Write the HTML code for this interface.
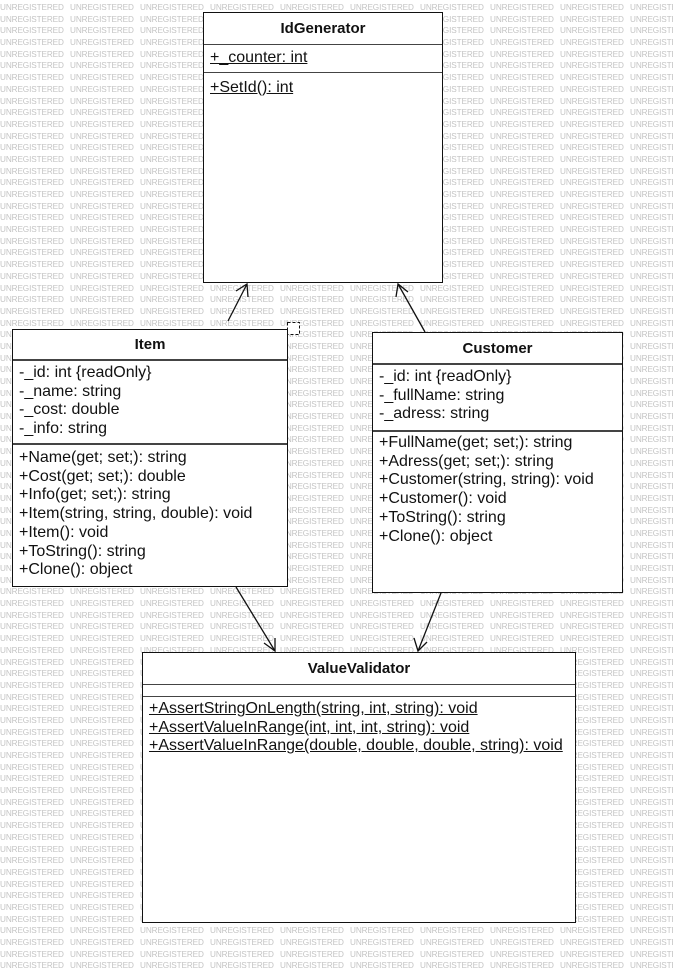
<!DOCTYPE html>
<html><head><meta charset="utf-8"><style>
html,body{margin:0;padding:0;width:673px;height:972px;overflow:hidden;background:#fff;font-family:"Liberation Sans",Arial,sans-serif}
#wm{position:absolute;left:0;top:2px;width:700px;height:970px;overflow:hidden;font-size:8.2px;color:#c4c4c4;line-height:11.7px;letter-spacing:-0.1px}
#wm b{float:left;display:block;width:70px;height:11.7px;font-weight:normal;white-space:nowrap;overflow:hidden}
.box{position:absolute;background:#fff;border:1px solid #111;box-sizing:border-box;font-size:16px;color:#111}
.t{position:absolute;left:0;right:0;text-align:center;font-weight:bold;font-size:15px}
.hl{position:absolute;left:0;right:0;border-top:2px solid #444}
.l{position:absolute;left:6px;white-space:nowrap;line-height:18.7px}
.u{text-decoration:underline}
svg{position:absolute;left:0;top:0}
</style></head><body>
<div id="wm">
<b>UNREGISTERED</b><b>UNREGISTERED</b><b>UNREGISTERED</b><b>UNREGISTERED</b><b>UNREGISTERED</b><b>UNREGISTERED</b><b>UNREGISTERED</b><b>UNREGISTERED</b><b>UNREGISTERED</b><b>UNREGISTERED</b>
<b>UNREGISTERED</b><b>UNREGISTERED</b><b>UNREGISTERED</b><b>UNREGISTERED</b><b>UNREGISTERED</b><b>UNREGISTERED</b><b>UNREGISTERED</b><b>UNREGISTERED</b><b>UNREGISTERED</b><b>UNREGISTERED</b>
<b>UNREGISTERED</b><b>UNREGISTERED</b><b>UNREGISTERED</b><b>UNREGISTERED</b><b>UNREGISTERED</b><b>UNREGISTERED</b><b>UNREGISTERED</b><b>UNREGISTERED</b><b>UNREGISTERED</b><b>UNREGISTERED</b>
<b>UNREGISTERED</b><b>UNREGISTERED</b><b>UNREGISTERED</b><b>UNREGISTERED</b><b>UNREGISTERED</b><b>UNREGISTERED</b><b>UNREGISTERED</b><b>UNREGISTERED</b><b>UNREGISTERED</b><b>UNREGISTERED</b>
<b>UNREGISTERED</b><b>UNREGISTERED</b><b>UNREGISTERED</b><b>UNREGISTERED</b><b>UNREGISTERED</b><b>UNREGISTERED</b><b>UNREGISTERED</b><b>UNREGISTERED</b><b>UNREGISTERED</b><b>UNREGISTERED</b>
<b>UNREGISTERED</b><b>UNREGISTERED</b><b>UNREGISTERED</b><b>UNREGISTERED</b><b>UNREGISTERED</b><b>UNREGISTERED</b><b>UNREGISTERED</b><b>UNREGISTERED</b><b>UNREGISTERED</b><b>UNREGISTERED</b>
<b>UNREGISTERED</b><b>UNREGISTERED</b><b>UNREGISTERED</b><b>UNREGISTERED</b><b>UNREGISTERED</b><b>UNREGISTERED</b><b>UNREGISTERED</b><b>UNREGISTERED</b><b>UNREGISTERED</b><b>UNREGISTERED</b>
<b>UNREGISTERED</b><b>UNREGISTERED</b><b>UNREGISTERED</b><b>UNREGISTERED</b><b>UNREGISTERED</b><b>UNREGISTERED</b><b>UNREGISTERED</b><b>UNREGISTERED</b><b>UNREGISTERED</b><b>UNREGISTERED</b>
<b>UNREGISTERED</b><b>UNREGISTERED</b><b>UNREGISTERED</b><b>UNREGISTERED</b><b>UNREGISTERED</b><b>UNREGISTERED</b><b>UNREGISTERED</b><b>UNREGISTERED</b><b>UNREGISTERED</b><b>UNREGISTERED</b>
<b>UNREGISTERED</b><b>UNREGISTERED</b><b>UNREGISTERED</b><b>UNREGISTERED</b><b>UNREGISTERED</b><b>UNREGISTERED</b><b>UNREGISTERED</b><b>UNREGISTERED</b><b>UNREGISTERED</b><b>UNREGISTERED</b>
<b>UNREGISTERED</b><b>UNREGISTERED</b><b>UNREGISTERED</b><b>UNREGISTERED</b><b>UNREGISTERED</b><b>UNREGISTERED</b><b>UNREGISTERED</b><b>UNREGISTERED</b><b>UNREGISTERED</b><b>UNREGISTERED</b>
<b>UNREGISTERED</b><b>UNREGISTERED</b><b>UNREGISTERED</b><b>UNREGISTERED</b><b>UNREGISTERED</b><b>UNREGISTERED</b><b>UNREGISTERED</b><b>UNREGISTERED</b><b>UNREGISTERED</b><b>UNREGISTERED</b>
<b>UNREGISTERED</b><b>UNREGISTERED</b><b>UNREGISTERED</b><b>UNREGISTERED</b><b>UNREGISTERED</b><b>UNREGISTERED</b><b>UNREGISTERED</b><b>UNREGISTERED</b><b>UNREGISTERED</b><b>UNREGISTERED</b>
<b>UNREGISTERED</b><b>UNREGISTERED</b><b>UNREGISTERED</b><b>UNREGISTERED</b><b>UNREGISTERED</b><b>UNREGISTERED</b><b>UNREGISTERED</b><b>UNREGISTERED</b><b>UNREGISTERED</b><b>UNREGISTERED</b>
<b>UNREGISTERED</b><b>UNREGISTERED</b><b>UNREGISTERED</b><b>UNREGISTERED</b><b>UNREGISTERED</b><b>UNREGISTERED</b><b>UNREGISTERED</b><b>UNREGISTERED</b><b>UNREGISTERED</b><b>UNREGISTERED</b>
<b>UNREGISTERED</b><b>UNREGISTERED</b><b>UNREGISTERED</b><b>UNREGISTERED</b><b>UNREGISTERED</b><b>UNREGISTERED</b><b>UNREGISTERED</b><b>UNREGISTERED</b><b>UNREGISTERED</b><b>UNREGISTERED</b>
<b>UNREGISTERED</b><b>UNREGISTERED</b><b>UNREGISTERED</b><b>UNREGISTERED</b><b>UNREGISTERED</b><b>UNREGISTERED</b><b>UNREGISTERED</b><b>UNREGISTERED</b><b>UNREGISTERED</b><b>UNREGISTERED</b>
<b>UNREGISTERED</b><b>UNREGISTERED</b><b>UNREGISTERED</b><b>UNREGISTERED</b><b>UNREGISTERED</b><b>UNREGISTERED</b><b>UNREGISTERED</b><b>UNREGISTERED</b><b>UNREGISTERED</b><b>UNREGISTERED</b>
<b>UNREGISTERED</b><b>UNREGISTERED</b><b>UNREGISTERED</b><b>UNREGISTERED</b><b>UNREGISTERED</b><b>UNREGISTERED</b><b>UNREGISTERED</b><b>UNREGISTERED</b><b>UNREGISTERED</b><b>UNREGISTERED</b>
<b>UNREGISTERED</b><b>UNREGISTERED</b><b>UNREGISTERED</b><b>UNREGISTERED</b><b>UNREGISTERED</b><b>UNREGISTERED</b><b>UNREGISTERED</b><b>UNREGISTERED</b><b>UNREGISTERED</b><b>UNREGISTERED</b>
<b>UNREGISTERED</b><b>UNREGISTERED</b><b>UNREGISTERED</b><b>UNREGISTERED</b><b>UNREGISTERED</b><b>UNREGISTERED</b><b>UNREGISTERED</b><b>UNREGISTERED</b><b>UNREGISTERED</b><b>UNREGISTERED</b>
<b>UNREGISTERED</b><b>UNREGISTERED</b><b>UNREGISTERED</b><b>UNREGISTERED</b><b>UNREGISTERED</b><b>UNREGISTERED</b><b>UNREGISTERED</b><b>UNREGISTERED</b><b>UNREGISTERED</b><b>UNREGISTERED</b>
<b>UNREGISTERED</b><b>UNREGISTERED</b><b>UNREGISTERED</b><b>UNREGISTERED</b><b>UNREGISTERED</b><b>UNREGISTERED</b><b>UNREGISTERED</b><b>UNREGISTERED</b><b>UNREGISTERED</b><b>UNREGISTERED</b>
<b>UNREGISTERED</b><b>UNREGISTERED</b><b>UNREGISTERED</b><b>UNREGISTERED</b><b>UNREGISTERED</b><b>UNREGISTERED</b><b>UNREGISTERED</b><b>UNREGISTERED</b><b>UNREGISTERED</b><b>UNREGISTERED</b>
<b>UNREGISTERED</b><b>UNREGISTERED</b><b>UNREGISTERED</b><b>UNREGISTERED</b><b>UNREGISTERED</b><b>UNREGISTERED</b><b>UNREGISTERED</b><b>UNREGISTERED</b><b>UNREGISTERED</b><b>UNREGISTERED</b>
<b>UNREGISTERED</b><b>UNREGISTERED</b><b>UNREGISTERED</b><b>UNREGISTERED</b><b>UNREGISTERED</b><b>UNREGISTERED</b><b>UNREGISTERED</b><b>UNREGISTERED</b><b>UNREGISTERED</b><b>UNREGISTERED</b>
<b>UNREGISTERED</b><b>UNREGISTERED</b><b>UNREGISTERED</b><b>UNREGISTERED</b><b>UNREGISTERED</b><b>UNREGISTERED</b><b>UNREGISTERED</b><b>UNREGISTERED</b><b>UNREGISTERED</b><b>UNREGISTERED</b>
<b>UNREGISTERED</b><b>UNREGISTERED</b><b>UNREGISTERED</b><b>UNREGISTERED</b><b>UNREGISTERED</b><b>UNREGISTERED</b><b>UNREGISTERED</b><b>UNREGISTERED</b><b>UNREGISTERED</b><b>UNREGISTERED</b>
<b>UNREGISTERED</b><b>UNREGISTERED</b><b>UNREGISTERED</b><b>UNREGISTERED</b><b>UNREGISTERED</b><b>UNREGISTERED</b><b>UNREGISTERED</b><b>UNREGISTERED</b><b>UNREGISTERED</b><b>UNREGISTERED</b>
<b>UNREGISTERED</b><b>UNREGISTERED</b><b>UNREGISTERED</b><b>UNREGISTERED</b><b>UNREGISTERED</b><b>UNREGISTERED</b><b>UNREGISTERED</b><b>UNREGISTERED</b><b>UNREGISTERED</b><b>UNREGISTERED</b>
<b>UNREGISTERED</b><b>UNREGISTERED</b><b>UNREGISTERED</b><b>UNREGISTERED</b><b>UNREGISTERED</b><b>UNREGISTERED</b><b>UNREGISTERED</b><b>UNREGISTERED</b><b>UNREGISTERED</b><b>UNREGISTERED</b>
<b>UNREGISTERED</b><b>UNREGISTERED</b><b>UNREGISTERED</b><b>UNREGISTERED</b><b>UNREGISTERED</b><b>UNREGISTERED</b><b>UNREGISTERED</b><b>UNREGISTERED</b><b>UNREGISTERED</b><b>UNREGISTERED</b>
<b>UNREGISTERED</b><b>UNREGISTERED</b><b>UNREGISTERED</b><b>UNREGISTERED</b><b>UNREGISTERED</b><b>UNREGISTERED</b><b>UNREGISTERED</b><b>UNREGISTERED</b><b>UNREGISTERED</b><b>UNREGISTERED</b>
<b>UNREGISTERED</b><b>UNREGISTERED</b><b>UNREGISTERED</b><b>UNREGISTERED</b><b>UNREGISTERED</b><b>UNREGISTERED</b><b>UNREGISTERED</b><b>UNREGISTERED</b><b>UNREGISTERED</b><b>UNREGISTERED</b>
<b>UNREGISTERED</b><b>UNREGISTERED</b><b>UNREGISTERED</b><b>UNREGISTERED</b><b>UNREGISTERED</b><b>UNREGISTERED</b><b>UNREGISTERED</b><b>UNREGISTERED</b><b>UNREGISTERED</b><b>UNREGISTERED</b>
<b>UNREGISTERED</b><b>UNREGISTERED</b><b>UNREGISTERED</b><b>UNREGISTERED</b><b>UNREGISTERED</b><b>UNREGISTERED</b><b>UNREGISTERED</b><b>UNREGISTERED</b><b>UNREGISTERED</b><b>UNREGISTERED</b>
<b>UNREGISTERED</b><b>UNREGISTERED</b><b>UNREGISTERED</b><b>UNREGISTERED</b><b>UNREGISTERED</b><b>UNREGISTERED</b><b>UNREGISTERED</b><b>UNREGISTERED</b><b>UNREGISTERED</b><b>UNREGISTERED</b>
<b>UNREGISTERED</b><b>UNREGISTERED</b><b>UNREGISTERED</b><b>UNREGISTERED</b><b>UNREGISTERED</b><b>UNREGISTERED</b><b>UNREGISTERED</b><b>UNREGISTERED</b><b>UNREGISTERED</b><b>UNREGISTERED</b>
<b>UNREGISTERED</b><b>UNREGISTERED</b><b>UNREGISTERED</b><b>UNREGISTERED</b><b>UNREGISTERED</b><b>UNREGISTERED</b><b>UNREGISTERED</b><b>UNREGISTERED</b><b>UNREGISTERED</b><b>UNREGISTERED</b>
<b>UNREGISTERED</b><b>UNREGISTERED</b><b>UNREGISTERED</b><b>UNREGISTERED</b><b>UNREGISTERED</b><b>UNREGISTERED</b><b>UNREGISTERED</b><b>UNREGISTERED</b><b>UNREGISTERED</b><b>UNREGISTERED</b>
<b>UNREGISTERED</b><b>UNREGISTERED</b><b>UNREGISTERED</b><b>UNREGISTERED</b><b>UNREGISTERED</b><b>UNREGISTERED</b><b>UNREGISTERED</b><b>UNREGISTERED</b><b>UNREGISTERED</b><b>UNREGISTERED</b>
<b>UNREGISTERED</b><b>UNREGISTERED</b><b>UNREGISTERED</b><b>UNREGISTERED</b><b>UNREGISTERED</b><b>UNREGISTERED</b><b>UNREGISTERED</b><b>UNREGISTERED</b><b>UNREGISTERED</b><b>UNREGISTERED</b>
<b>UNREGISTERED</b><b>UNREGISTERED</b><b>UNREGISTERED</b><b>UNREGISTERED</b><b>UNREGISTERED</b><b>UNREGISTERED</b><b>UNREGISTERED</b><b>UNREGISTERED</b><b>UNREGISTERED</b><b>UNREGISTERED</b>
<b>UNREGISTERED</b><b>UNREGISTERED</b><b>UNREGISTERED</b><b>UNREGISTERED</b><b>UNREGISTERED</b><b>UNREGISTERED</b><b>UNREGISTERED</b><b>UNREGISTERED</b><b>UNREGISTERED</b><b>UNREGISTERED</b>
<b>UNREGISTERED</b><b>UNREGISTERED</b><b>UNREGISTERED</b><b>UNREGISTERED</b><b>UNREGISTERED</b><b>UNREGISTERED</b><b>UNREGISTERED</b><b>UNREGISTERED</b><b>UNREGISTERED</b><b>UNREGISTERED</b>
<b>UNREGISTERED</b><b>UNREGISTERED</b><b>UNREGISTERED</b><b>UNREGISTERED</b><b>UNREGISTERED</b><b>UNREGISTERED</b><b>UNREGISTERED</b><b>UNREGISTERED</b><b>UNREGISTERED</b><b>UNREGISTERED</b>
<b>UNREGISTERED</b><b>UNREGISTERED</b><b>UNREGISTERED</b><b>UNREGISTERED</b><b>UNREGISTERED</b><b>UNREGISTERED</b><b>UNREGISTERED</b><b>UNREGISTERED</b><b>UNREGISTERED</b><b>UNREGISTERED</b>
<b>UNREGISTERED</b><b>UNREGISTERED</b><b>UNREGISTERED</b><b>UNREGISTERED</b><b>UNREGISTERED</b><b>UNREGISTERED</b><b>UNREGISTERED</b><b>UNREGISTERED</b><b>UNREGISTERED</b><b>UNREGISTERED</b>
<b>UNREGISTERED</b><b>UNREGISTERED</b><b>UNREGISTERED</b><b>UNREGISTERED</b><b>UNREGISTERED</b><b>UNREGISTERED</b><b>UNREGISTERED</b><b>UNREGISTERED</b><b>UNREGISTERED</b><b>UNREGISTERED</b>
<b>UNREGISTERED</b><b>UNREGISTERED</b><b>UNREGISTERED</b><b>UNREGISTERED</b><b>UNREGISTERED</b><b>UNREGISTERED</b><b>UNREGISTERED</b><b>UNREGISTERED</b><b>UNREGISTERED</b><b>UNREGISTERED</b>
<b>UNREGISTERED</b><b>UNREGISTERED</b><b>UNREGISTERED</b><b>UNREGISTERED</b><b>UNREGISTERED</b><b>UNREGISTERED</b><b>UNREGISTERED</b><b>UNREGISTERED</b><b>UNREGISTERED</b><b>UNREGISTERED</b>
<b>UNREGISTERED</b><b>UNREGISTERED</b><b>UNREGISTERED</b><b>UNREGISTERED</b><b>UNREGISTERED</b><b>UNREGISTERED</b><b>UNREGISTERED</b><b>UNREGISTERED</b><b>UNREGISTERED</b><b>UNREGISTERED</b>
<b>UNREGISTERED</b><b>UNREGISTERED</b><b>UNREGISTERED</b><b>UNREGISTERED</b><b>UNREGISTERED</b><b>UNREGISTERED</b><b>UNREGISTERED</b><b>UNREGISTERED</b><b>UNREGISTERED</b><b>UNREGISTERED</b>
<b>UNREGISTERED</b><b>UNREGISTERED</b><b>UNREGISTERED</b><b>UNREGISTERED</b><b>UNREGISTERED</b><b>UNREGISTERED</b><b>UNREGISTERED</b><b>UNREGISTERED</b><b>UNREGISTERED</b><b>UNREGISTERED</b>
<b>UNREGISTERED</b><b>UNREGISTERED</b><b>UNREGISTERED</b><b>UNREGISTERED</b><b>UNREGISTERED</b><b>UNREGISTERED</b><b>UNREGISTERED</b><b>UNREGISTERED</b><b>UNREGISTERED</b><b>UNREGISTERED</b>
<b>UNREGISTERED</b><b>UNREGISTERED</b><b>UNREGISTERED</b><b>UNREGISTERED</b><b>UNREGISTERED</b><b>UNREGISTERED</b><b>UNREGISTERED</b><b>UNREGISTERED</b><b>UNREGISTERED</b><b>UNREGISTERED</b>
<b>UNREGISTERED</b><b>UNREGISTERED</b><b>UNREGISTERED</b><b>UNREGISTERED</b><b>UNREGISTERED</b><b>UNREGISTERED</b><b>UNREGISTERED</b><b>UNREGISTERED</b><b>UNREGISTERED</b><b>UNREGISTERED</b>
<b>UNREGISTERED</b><b>UNREGISTERED</b><b>UNREGISTERED</b><b>UNREGISTERED</b><b>UNREGISTERED</b><b>UNREGISTERED</b><b>UNREGISTERED</b><b>UNREGISTERED</b><b>UNREGISTERED</b><b>UNREGISTERED</b>
<b>UNREGISTERED</b><b>UNREGISTERED</b><b>UNREGISTERED</b><b>UNREGISTERED</b><b>UNREGISTERED</b><b>UNREGISTERED</b><b>UNREGISTERED</b><b>UNREGISTERED</b><b>UNREGISTERED</b><b>UNREGISTERED</b>
<b>UNREGISTERED</b><b>UNREGISTERED</b><b>UNREGISTERED</b><b>UNREGISTERED</b><b>UNREGISTERED</b><b>UNREGISTERED</b><b>UNREGISTERED</b><b>UNREGISTERED</b><b>UNREGISTERED</b><b>UNREGISTERED</b>
<b>UNREGISTERED</b><b>UNREGISTERED</b><b>UNREGISTERED</b><b>UNREGISTERED</b><b>UNREGISTERED</b><b>UNREGISTERED</b><b>UNREGISTERED</b><b>UNREGISTERED</b><b>UNREGISTERED</b><b>UNREGISTERED</b>
<b>UNREGISTERED</b><b>UNREGISTERED</b><b>UNREGISTERED</b><b>UNREGISTERED</b><b>UNREGISTERED</b><b>UNREGISTERED</b><b>UNREGISTERED</b><b>UNREGISTERED</b><b>UNREGISTERED</b><b>UNREGISTERED</b>
<b>UNREGISTERED</b><b>UNREGISTERED</b><b>UNREGISTERED</b><b>UNREGISTERED</b><b>UNREGISTERED</b><b>UNREGISTERED</b><b>UNREGISTERED</b><b>UNREGISTERED</b><b>UNREGISTERED</b><b>UNREGISTERED</b>
<b>UNREGISTERED</b><b>UNREGISTERED</b><b>UNREGISTERED</b><b>UNREGISTERED</b><b>UNREGISTERED</b><b>UNREGISTERED</b><b>UNREGISTERED</b><b>UNREGISTERED</b><b>UNREGISTERED</b><b>UNREGISTERED</b>
<b>UNREGISTERED</b><b>UNREGISTERED</b><b>UNREGISTERED</b><b>UNREGISTERED</b><b>UNREGISTERED</b><b>UNREGISTERED</b><b>UNREGISTERED</b><b>UNREGISTERED</b><b>UNREGISTERED</b><b>UNREGISTERED</b>
<b>UNREGISTERED</b><b>UNREGISTERED</b><b>UNREGISTERED</b><b>UNREGISTERED</b><b>UNREGISTERED</b><b>UNREGISTERED</b><b>UNREGISTERED</b><b>UNREGISTERED</b><b>UNREGISTERED</b><b>UNREGISTERED</b>
<b>UNREGISTERED</b><b>UNREGISTERED</b><b>UNREGISTERED</b><b>UNREGISTERED</b><b>UNREGISTERED</b><b>UNREGISTERED</b><b>UNREGISTERED</b><b>UNREGISTERED</b><b>UNREGISTERED</b><b>UNREGISTERED</b>
<b>UNREGISTERED</b><b>UNREGISTERED</b><b>UNREGISTERED</b><b>UNREGISTERED</b><b>UNREGISTERED</b><b>UNREGISTERED</b><b>UNREGISTERED</b><b>UNREGISTERED</b><b>UNREGISTERED</b><b>UNREGISTERED</b>
<b>UNREGISTERED</b><b>UNREGISTERED</b><b>UNREGISTERED</b><b>UNREGISTERED</b><b>UNREGISTERED</b><b>UNREGISTERED</b><b>UNREGISTERED</b><b>UNREGISTERED</b><b>UNREGISTERED</b><b>UNREGISTERED</b>
<b>UNREGISTERED</b><b>UNREGISTERED</b><b>UNREGISTERED</b><b>UNREGISTERED</b><b>UNREGISTERED</b><b>UNREGISTERED</b><b>UNREGISTERED</b><b>UNREGISTERED</b><b>UNREGISTERED</b><b>UNREGISTERED</b>
<b>UNREGISTERED</b><b>UNREGISTERED</b><b>UNREGISTERED</b><b>UNREGISTERED</b><b>UNREGISTERED</b><b>UNREGISTERED</b><b>UNREGISTERED</b><b>UNREGISTERED</b><b>UNREGISTERED</b><b>UNREGISTERED</b>
<b>UNREGISTERED</b><b>UNREGISTERED</b><b>UNREGISTERED</b><b>UNREGISTERED</b><b>UNREGISTERED</b><b>UNREGISTERED</b><b>UNREGISTERED</b><b>UNREGISTERED</b><b>UNREGISTERED</b><b>UNREGISTERED</b>
<b>UNREGISTERED</b><b>UNREGISTERED</b><b>UNREGISTERED</b><b>UNREGISTERED</b><b>UNREGISTERED</b><b>UNREGISTERED</b><b>UNREGISTERED</b><b>UNREGISTERED</b><b>UNREGISTERED</b><b>UNREGISTERED</b>
<b>UNREGISTERED</b><b>UNREGISTERED</b><b>UNREGISTERED</b><b>UNREGISTERED</b><b>UNREGISTERED</b><b>UNREGISTERED</b><b>UNREGISTERED</b><b>UNREGISTERED</b><b>UNREGISTERED</b><b>UNREGISTERED</b>
<b>UNREGISTERED</b><b>UNREGISTERED</b><b>UNREGISTERED</b><b>UNREGISTERED</b><b>UNREGISTERED</b><b>UNREGISTERED</b><b>UNREGISTERED</b><b>UNREGISTERED</b><b>UNREGISTERED</b><b>UNREGISTERED</b>
<b>UNREGISTERED</b><b>UNREGISTERED</b><b>UNREGISTERED</b><b>UNREGISTERED</b><b>UNREGISTERED</b><b>UNREGISTERED</b><b>UNREGISTERED</b><b>UNREGISTERED</b><b>UNREGISTERED</b><b>UNREGISTERED</b>
<b>UNREGISTERED</b><b>UNREGISTERED</b><b>UNREGISTERED</b><b>UNREGISTERED</b><b>UNREGISTERED</b><b>UNREGISTERED</b><b>UNREGISTERED</b><b>UNREGISTERED</b><b>UNREGISTERED</b><b>UNREGISTERED</b>
<b>UNREGISTERED</b><b>UNREGISTERED</b><b>UNREGISTERED</b><b>UNREGISTERED</b><b>UNREGISTERED</b><b>UNREGISTERED</b><b>UNREGISTERED</b><b>UNREGISTERED</b><b>UNREGISTERED</b><b>UNREGISTERED</b>
<b>UNREGISTERED</b><b>UNREGISTERED</b><b>UNREGISTERED</b><b>UNREGISTERED</b><b>UNREGISTERED</b><b>UNREGISTERED</b><b>UNREGISTERED</b><b>UNREGISTERED</b><b>UNREGISTERED</b><b>UNREGISTERED</b>
<b>UNREGISTERED</b><b>UNREGISTERED</b><b>UNREGISTERED</b><b>UNREGISTERED</b><b>UNREGISTERED</b><b>UNREGISTERED</b><b>UNREGISTERED</b><b>UNREGISTERED</b><b>UNREGISTERED</b><b>UNREGISTERED</b>
<b>UNREGISTERED</b><b>UNREGISTERED</b><b>UNREGISTERED</b><b>UNREGISTERED</b><b>UNREGISTERED</b><b>UNREGISTERED</b><b>UNREGISTERED</b><b>UNREGISTERED</b><b>UNREGISTERED</b><b>UNREGISTERED</b>
<b>UNREGISTERED</b><b>UNREGISTERED</b><b>UNREGISTERED</b><b>UNREGISTERED</b><b>UNREGISTERED</b><b>UNREGISTERED</b><b>UNREGISTERED</b><b>UNREGISTERED</b><b>UNREGISTERED</b><b>UNREGISTERED</b>
<b>UNREGISTERED</b><b>UNREGISTERED</b><b>UNREGISTERED</b><b>UNREGISTERED</b><b>UNREGISTERED</b><b>UNREGISTERED</b><b>UNREGISTERED</b><b>UNREGISTERED</b><b>UNREGISTERED</b><b>UNREGISTERED</b>
</div>

<svg width="673" height="972" viewBox="0 0 673 972">
  <g stroke="#111" stroke-width="1.3" fill="none">
    <line x1="228" y1="321" x2="247" y2="284"/>
    <polyline points="236,291 247,284 248,297"/>
    <line x1="425" y1="332" x2="398" y2="284"/>
    <polyline points="396,297 398,284 408,292"/>
    <line x1="236" y1="587" x2="275" y2="651"/>
    <polyline points="264,643 275,651 275,638"/>
    <line x1="441" y1="593" x2="418" y2="651"/>
    <polyline points="414,638 418,651 427,642"/>
  </g>
  <rect x="287.5" y="322.5" width="12" height="12" fill="#fff" stroke="#111" stroke-dasharray="3,2"/>
</svg>

<div class="box" style="left:203px;top:12px;width:240px;height:271px">
  <div class="t" style="top:7px">IdGenerator</div>
  <div class="hl" style="top:31px;border-top-width:1px"></div>
  <div class="l u" style="top:36px">+_counter: int</div>
  <div class="hl" style="top:59px;border-top-width:1px"></div>
  <div class="l u" style="top:66px">+SetId(): int</div>
</div>

<div class="box" style="left:12px;top:329px;width:276px;height:258px">
  <div class="t" style="top:6px">Item</div>
  <div class="hl" style="top:29px"></div>
  <div class="l" style="top:34px">-_id: int {readOnly}</div>
  <div class="l" style="top:52.7px">-_name: string</div>
  <div class="l" style="top:71.4px">-_cost: double</div>
  <div class="l" style="top:90.1px">-_info: string</div>
  <div class="hl" style="top:113px"></div>
  <div class="l" style="top:119px">+Name(get; set;): string</div>
  <div class="l" style="top:137.7px">+Cost(get; set;): double</div>
  <div class="l" style="top:156.4px">+Info(get; set;): string</div>
  <div class="l" style="top:175.1px">+Item(string, string, double): void</div>
  <div class="l" style="top:193.8px">+Item(): void</div>
  <div class="l" style="top:212.5px">+ToString(): string</div>
  <div class="l" style="top:231.2px">+Clone(): object</div>
</div>

<div class="box" style="left:372px;top:332px;width:251px;height:261px">
  <div class="t" style="top:7px">Customer</div>
  <div class="hl" style="top:30px"></div>
  <div class="l" style="top:35px">-_id: int {readOnly}</div>
  <div class="l" style="top:53.7px">-_fullName: string</div>
  <div class="l" style="top:72.4px">-_adress: string</div>
  <div class="hl" style="top:97px"></div>
  <div class="l" style="top:101px">+FullName(get; set;): string</div>
  <div class="l" style="top:119.7px">+Adress(get; set;): string</div>
  <div class="l" style="top:138.4px">+Customer(string, string): void</div>
  <div class="l" style="top:157.1px">+Customer(): void</div>
  <div class="l" style="top:175.8px">+ToString(): string</div>
  <div class="l" style="top:194.5px">+Clone(): object</div>
</div>

<div class="box" style="left:142px;top:652px;width:434px;height:271px">
  <div class="t" style="top:7px">ValueValidator</div>
  <div class="hl" style="top:31px;border-top-width:1px"></div>
  <div class="hl" style="top:43px;border-top-width:1px"></div>
  <div class="l u" style="top:47px">+AssertStringOnLength(string, int, string): void</div>
  <div class="l u" style="top:65.7px">+AssertValueInRange(int, int, int, string): void</div>
  <div class="l u" style="top:84.4px">+AssertValueInRange(double, double, double, string): void</div>
</div>
</body></html>
